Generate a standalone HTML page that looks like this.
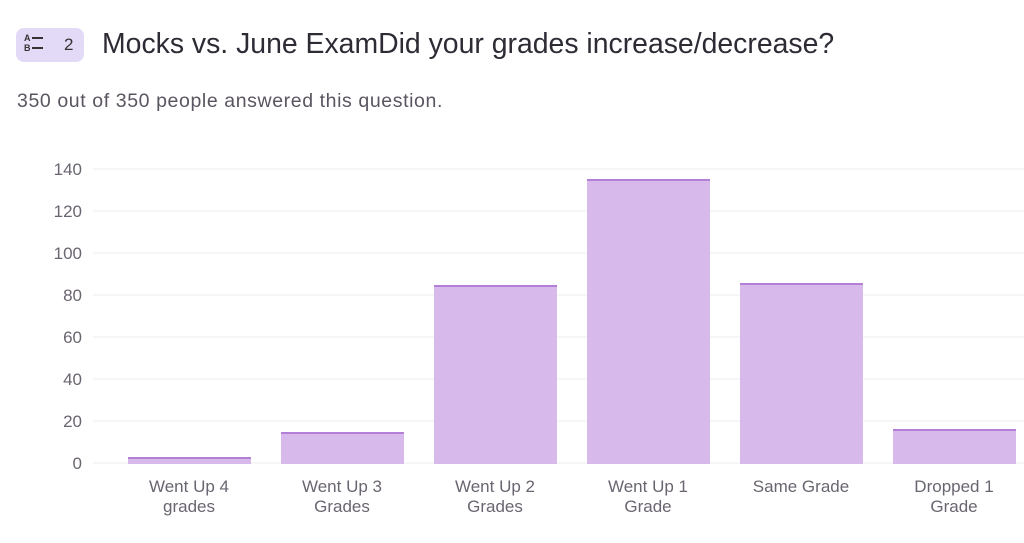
<!DOCTYPE html>
<html><head><style>
body{margin:0;width:1024px;height:543px;background:#fff;font-family:"Liberation Sans",sans-serif;position:relative;overflow:hidden}
.badge{position:absolute;left:16px;top:28px;width:68px;height:34px;background:#e2daf6;border-radius:8px}
.t{position:absolute;white-space:nowrap}
</style></head><body>
<div class="badge"></div>
<div class="t" style="left:24px;top:33px;font-size:9px;font-weight:bold;color:#333;line-height:10px">A<br>B</div>
<div class="t" style="left:32px;top:37px;width:11px;height:2px;background:#333"></div>
<div class="t" style="left:32px;top:47px;width:11px;height:2px;background:#333"></div>
<div class="t" style="left:64px;top:35px;font-size:17px;color:#333">2</div>
<div class="t" style="left:102px;top:28px;font-size:28.4px;color:#2f2b35">Mocks vs. June ExamDid your grades increase/decrease?</div>
<div class="t" style="left:17px;top:90px;font-size:19.5px;letter-spacing:0.6px;color:#5a5560">350 out of 350 people answered this question.</div>
<svg width="1024" height="543" style="position:absolute;left:0;top:0" font-family="Liberation Sans, sans-serif">
<g stroke="#eeeef2" stroke-width="1">
<line x1="93" x2="1024" y1="169" y2="169"/><line x1="93" x2="1024" y1="211" y2="211"/>
<line x1="93" x2="1024" y1="253" y2="253"/><line x1="93" x2="1024" y1="295" y2="295"/>
<line x1="93" x2="1024" y1="337" y2="337"/><line x1="93" x2="1024" y1="379" y2="379"/>
<line x1="93" x2="1024" y1="421" y2="421"/><line x1="93" x2="1024" y1="463" y2="463"/>
</g>
<g font-size="17" fill="#6a6570" text-anchor="end">
<text x="82" y="175">140</text><text x="82" y="217">120</text><text x="82" y="259">100</text>
<text x="82" y="301">80</text><text x="82" y="343">60</text><text x="82" y="385">40</text>
<text x="82" y="427">20</text><text x="82" y="469">0</text>
</g>
<g fill="#d8b9ec">
<rect x="128" y="457" width="123" height="7"/><rect x="281" y="432" width="123" height="32"/>
<rect x="434" y="285" width="123" height="179"/><rect x="587" y="179" width="123" height="285"/>
<rect x="740" y="283" width="123" height="181"/><rect x="893" y="429" width="123" height="35"/>
</g>
<g fill="#b47fd6">
<rect x="128" y="457" width="123" height="2"/><rect x="281" y="432" width="123" height="2"/>
<rect x="434" y="285" width="123" height="2"/><rect x="587" y="179" width="123" height="2"/>
<rect x="740" y="283" width="123" height="2"/><rect x="893" y="429" width="123" height="2"/>
</g>
<g font-size="17" fill="#6a6570" text-anchor="middle">
<text x="189" y="492">Went Up 4</text><text x="189" y="512">grades</text>
<text x="342" y="492">Went Up 3</text><text x="342" y="512">Grades</text>
<text x="495" y="492">Went Up 2</text><text x="495" y="512">Grades</text>
<text x="648" y="492">Went Up 1</text><text x="648" y="512">Grade</text>
<text x="801" y="492">Same Grade</text>
<text x="954" y="492">Dropped 1</text><text x="954" y="512">Grade</text>
</g>
</svg>
</body></html>
